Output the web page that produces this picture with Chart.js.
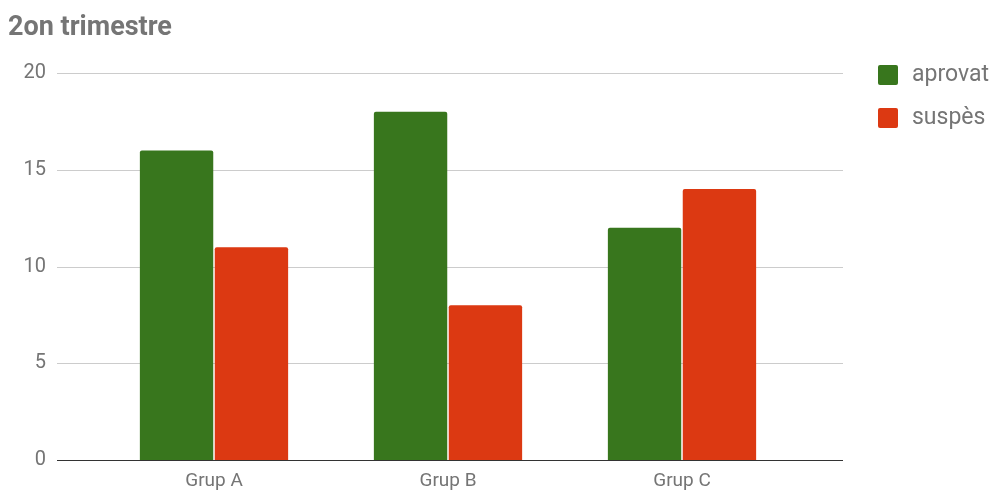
<!DOCTYPE html>
<html lang="ca">
<head>
    <meta charset="UTF-8">
    <title>2on trimestre</title>
    <style>
        body { margin: 0; padding: 0; background: #fff; }
        .chart-box { position: relative; width: 1000px; height: 491px; }
        #grupsChart { width: 1000px; height: 491px; }
    </style>
    <script src="https://cdn.jsdelivr.net/npm/chart.js@4/dist/chart.umd.min.js"></script>
</head>
<body>
    <div class="chart-box">
        <canvas id="grupsChart" width="1000" height="491"></canvas>
    </div>

    <script>
        // dades del trimestre
        const grups = ['Grup A', 'Grup B', 'Grup C'];
        const aprovat = [16, 18, 12];
        const suspes = [11, 8, 14];
        const yTicks = [0, 5, 10, 15, 20];

        const GRIS = '#757575';
        const FONT = 'Roboto, "Open Sans", Arial, sans-serif';

        // línies de la graella més llargues que l'àrea de les barres
        const graella = {
            id: 'graella',
            beforeDatasetsDraw(chart) {
                const ctx = chart.ctx;
                const y = chart.scales.y;
                ctx.save();
                ctx.lineWidth = 1;
                yTicks.forEach(v => {
                    if (v === 0) return;
                    const py = Math.round(y.getPixelForValue(v)) + 0.5;
                    ctx.strokeStyle = '#cccccc';
                    ctx.beginPath();
                    ctx.moveTo(57, py);
                    ctx.lineTo(843, py);
                    ctx.stroke();
                });
                ctx.restore();
            },
            afterDatasetsDraw(chart) {
                // la línia base per sobre de les barres
                const ctx = chart.ctx;
                const py = Math.round(chart.scales.y.getPixelForValue(0)) + 0.5;
                ctx.save();
                ctx.strokeStyle = '#333333';
                ctx.lineWidth = 1;
                ctx.beginPath();
                ctx.moveTo(57, py);
                ctx.lineTo(843, py);
                ctx.stroke();
                ctx.restore();
            }
        };

        // llegenda a la dreta
        const llegenda = {
            id: 'llegenda',
            afterDraw(chart) {
                const ctx = chart.ctx;
                ctx.save();
                chart.data.datasets.forEach((ds, i) => {
                    const x = 878, y = 65 + i * 43;
                    ctx.fillStyle = ds.backgroundColor;
                    ctx.beginPath();
                    ctx.roundRect(x, y, 20, 20, 2);
                    ctx.fill();
                    ctx.fillStyle = GRIS;
                    ctx.font = '23px ' + FONT;
                    ctx.textBaseline = 'middle';
                    ctx.textAlign = 'left';
                    ctx.fillText(ds.label, x + 34, y + 10);
                });
                ctx.restore();
            }
        };

        new Chart(document.getElementById('grupsChart'), {
            type: 'bar',
            data: {
                labels: grups,
                datasets: [
                    {
                        label: 'aprovat',
                        data: aprovat,
                        backgroundColor: '#38761d',
                        borderRadius: 2,
                        borderSkipped: 'bottom'
                    },
                    {
                        label: 'suspès',
                        data: suspes,
                        backgroundColor: '#dc3912',
                        borderRadius: 2,
                        borderSkipped: 'bottom'
                    }
                ]
            },
            options: {
                responsive: false,
                maintainAspectRatio: false,
                animation: false,
                layout: { padding: { left: 8, right: 201, top: 0, bottom: 0 } },
                datasets: {
                    bar: { barPercentage: 0.98, categoryPercentage: 0.64 }
                },
                plugins: {
                    legend: { display: false },
                    tooltip: { enabled: false },
                    title: {
                        display: true,
                        text: '2on trimestre',
                        align: 'start',
                        color: GRIS,
                        font: { family: FONT, size: 27, weight: 'bold', lineHeight: 1.2 },
                        padding: { top: 12, bottom: 28.6 }
                    }
                },
                scales: {
                    x: {
                        offset: true,
                        grid: { display: false, drawTicks: false },
                        border: { display: false },
                        ticks: { color: GRIS, font: { family: FONT, size: 19 }, padding: 10 },
                        afterFit(scale) { scale.height = 31; }
                    },
                    y: {
                        min: 0,
                        max: 20,
                        grid: { display: false, drawTicks: false },
                        border: { display: false },
                        afterBuildTicks(scale) { scale.ticks = yTicks.map(v => ({ value: v })); },
                        ticks: { color: GRIS, font: { family: FONT, size: 20 }, padding: 51 },
                        afterFit(scale) {
                            // l'espai de les etiquetes no ha d'encongir l'àrea del gràfic
                            scale.width = 89;
                            scale.paddingTop = 0;
                            scale.paddingBottom = 0;
                        }
                    }
                }
            },
            plugins: [graella, llegenda]
        });
    </script>
</body>
</html>
